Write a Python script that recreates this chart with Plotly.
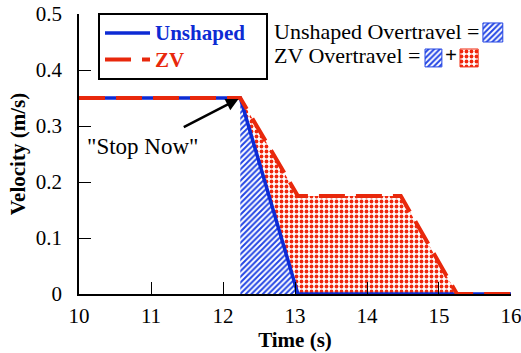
import plotly.graph_objects as go

# Velocity profiles after a "stop now" command
t_unshaped = [10, 12.24, 13.04, 16]
v_unshaped = [0.35, 0.35, 0.0, 0.0]

t_zv = [10, 12.24, 13.04, 14.47, 15.25, 16]
v_zv = [0.35, 0.35, 0.175, 0.175, 0.0, 0.0]

x_ticks = [10, 11, 12, 13, 14, 15, 16]
y_ticks = [0, 0.1, 0.2, 0.3, 0.4, 0.5]
y_tick_text = ["0", "0.1", "0.2", "0.3", "0.4", "0.5"]

BLUE = "#0d2bd4"
RED = "#e8280c"
SERIF = "Liberation Serif, Times New Roman, serif"

stop_i = 1  # index of the stop command in both profiles

# Overtravel regions
blue_x = [t_unshaped[stop_i]] + t_unshaped[stop_i:3]
blue_y = [0.0] + v_unshaped[stop_i:3]

red_x = t_zv[stop_i:5] + t_unshaped[stop_i:3][::-1]
red_y = v_zv[stop_i:5] + v_unshaped[stop_i:3][::-1]

hatch = dict(shape="/", fgcolor="#2446e4", bgcolor="white", size=4, solidity=0.5, fgopacity=1)
dots = dict(shape=".", fgcolor="#f0280e", bgcolor="white", size=5, solidity=0.45, fgopacity=1)

fig = go.Figure()

fig.add_trace(go.Scatter(
    x=red_x, y=red_y, mode="none", fill="toself",
    fillpattern=dots, fillcolor="rgba(0,0,0,0)", showlegend=False, hoverinfo="skip"))
fig.add_trace(go.Scatter(
    x=blue_x, y=blue_y, mode="none", fill="toself",
    fillpattern=hatch, fillcolor="rgba(0,0,0,0)", showlegend=False, hoverinfo="skip"))

NBSP = "\u00a0"
fig.add_trace(go.Scatter(
    x=t_unshaped, y=v_unshaped, mode="lines",
    line=dict(color=BLUE, width=3.5),
    name=f"<b><span style='color:{BLUE};font-size:21px'>Unshaped{NBSP * 3}</span></b>"))
fig.add_trace(go.Scatter(
    x=t_zv, y=v_zv, mode="lines",
    line=dict(color=RED, width=4, dash="26px,11px"),
    name=f"<b><span style='color:{RED};font-size:21px'>ZV</span></b>"))

# Key swatches next to the overtravel text (overlay axes in plot-area fractions)
swatches = [
    (0.935, 0.981, 0.900, 0.968, hatch),
    (0.801, 0.840, 0.811, 0.875, hatch),
    (0.882, 0.924, 0.811, 0.875, dots),
]
for x0, x1, y0, y1, pat in swatches:
    fig.add_trace(go.Scatter(
        x=[x0, x1, x1, x0, x0], y=[y0, y0, y1, y1, y0],
        xaxis="x2", yaxis="y2", mode="lines", fill="toself",
        line=dict(color=pat["fgcolor"], width=1),
        fillpattern=pat, fillcolor="rgba(0,0,0,0)",
        showlegend=False, hoverinfo="skip"))

fig.update_layout(
    width=521, height=353,
    margin=dict(l=79, r=10, t=14, b=59),
    paper_bgcolor="white", plot_bgcolor="white",
    font=dict(family=SERIF, color="black", size=21),
    xaxis=dict(
        range=[10, 16.0001], tickvals=x_ticks, ticks="inside", ticklen=12,
        tickwidth=1.2, tickcolor="black", showline=True, linecolor="black",
        linewidth=1.5, showgrid=False, zeroline=False, ticklabelstandoff=2,
        tickfont=dict(size=21), ticklabeloverflow="allow", automargin=False,
        title=dict(text="<b>Time (s)</b>", font=dict(size=21), standoff=4)),
    yaxis=dict(
        range=[0, 0.5], tickvals=y_ticks, ticktext=y_tick_text, ticks="inside",
        ticklen=12, tickwidth=1.2, tickcolor="black", showline=True,
        linecolor="black", linewidth=1.5, showgrid=False, zeroline=False,
        ticklabelstandoff=11, tickfont=dict(size=21), automargin=False,
        title=dict(text="<b>Velocity (m/s)</b>", font=dict(size=21), standoff=4)),
    xaxis2=dict(domain=[0, 1], range=[0, 1], overlaying="x", visible=False),
    yaxis2=dict(domain=[0, 1], range=[0, 1], overlaying="y", visible=False),
    legend=dict(
        x=0.044, y=1.004, xanchor="left", yanchor="top",
        bgcolor="white", bordercolor="black", borderwidth=2,
        font=dict(family=SERIF, size=18), tracegroupgap=0,
        itemwidth=45),
    showlegend=True,
)

# Drop shadow behind the legend box
fig.add_shape(type="rect", xref="paper", yref="paper",
              x0=0.051, x1=0.419, y0=0.764, y1=0.993,
              fillcolor="black", line_width=0, layer="below")

fig.add_annotation(xref="paper", yref="paper", x=0.447, y=0.938,
                   xanchor="left", yanchor="middle", showarrow=False,
                   text="Unshaped Overtravel =", font=dict(size=22))
fig.add_annotation(xref="paper", yref="paper", x=0.447, y=0.852,
                   xanchor="left", yanchor="middle", showarrow=False,
                   text="ZV Overtravel =", font=dict(size=22))
fig.add_annotation(xref="paper", yref="paper", x=0.861, y=0.852,
                   xanchor="center", yanchor="middle", showarrow=False,
                   text="<b>+</b>", font=dict(size=21))

# "Stop Now" label and arrow to the stop point
fig.add_annotation(x=t_zv[stop_i], y=v_zv[stop_i], ax=-58, ay=30,
                   text="", showarrow=True, arrowhead=2, arrowsize=1,
                   arrowwidth=2.5, arrowcolor="black", standoff=2)
fig.add_annotation(x=10.88, y=0.264, text='"Stop Now"', showarrow=False,
                   font=dict(size=23))

fig.write_html("out.html")
